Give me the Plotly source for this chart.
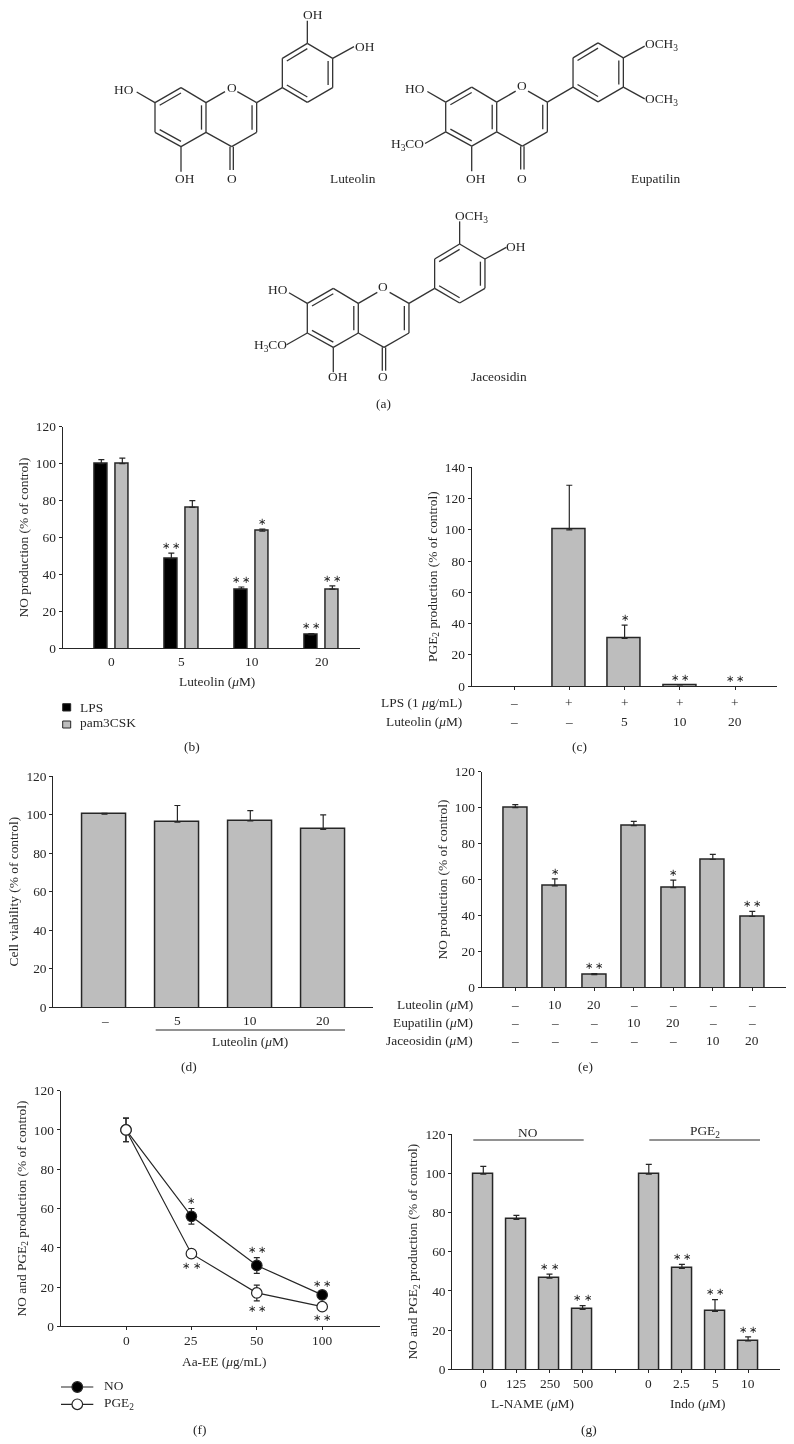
import plotly.graph_objects as go

W, H = 794, 1444
INK = "#262626"
GREY = "#bdbdbd"
FONT = "Liberation Serif, Times New Roman, serif"
FS = 13.4
MU = "<i>μ</i>"
S1 = "∗"
S2 = "∗ ∗"

# ---------- data ----------
b_groups = ["0", "5", "10", "20"]
b_lps = [100, 48.5, 32, 7.3]
b_lps_top = [102.2, 51.5, 33.2, 8]
b_lps_stars = ["", S2, S2, S2]
b_pam = [100, 76.3, 63.5, 32]
b_pam_top = [103, 80, 64.5, 33.8]
b_pam_stars = ["", "", S1, S2]

c_vals = [0, 100, 30.5, 0.7, 0]
c_top = [0, 128.5, 39, 0.9, 0.2]
c_stars = ["", "", S1, S2, S2]
c_rows = [("LPS (1 " + MU + "g/mL)", ["–", "+", "+", "+", "+"]),
          ("Luteolin (" + MU + "M)", ["–", "–", "5", "10", "20"])]

d_labels = ["–", "5", "10", "20"]
d_vals = [100.2, 96, 96.7, 92.3]
d_top = [100.6, 104.7, 102, 99.8]

e_vals = [100, 56.5, 7, 90, 55.5, 71.2, 39.5]
e_top = [101.7, 60.3, 7.6, 92.3, 59.6, 74, 42.3]
e_stars = ["", S1, S2, "", S1, "", S2]
e_rows = [("Luteolin (" + MU + "M)", ["–", "10", "20", "–", "–", "–", "–"]),
          ("Eupatilin (" + MU + "M)", ["–", "–", "–", "10", "20", "–", "–"]),
          ("Jaceosidin (" + MU + "M)", ["–", "–", "–", "–", "–", "10", "20"])]

f_labels = ["0", "25", "50", "100"]
f_no = [100, 56, 31, 16]
f_no_err = [6, 4, 4, 2]
f_no_stars = ["", S1, S2, S2]
f_pge = [100, 37, 17, 10]
f_pge_err = [6, 2, 4, 1.5]
f_pge_stars = ["", S2, S2, S2]

g_labels = ["0", "125", "250", "500", "0", "2.5", "5", "10"]
g_pos = [0, 1, 2, 3, 5, 6, 7, 8]
g_vals = [99.5, 76.5, 46.5, 30.5, 99.5, 51.5, 29.5, 14.5]
g_top = [103.5, 78.5, 48.5, 32.5, 104.5, 53.5, 35.5, 16.5]
g_stars = ["", "", S2, S2, "", S2, S2, S2]

# ---------- helpers ----------
fig = go.Figure()
layout_axes = {}
annotations = []
shapes = []
BASE = -2  # bars start just under the axis so that only the axis line closes them
STAR_GAP = 1.0


def px(x):
    return x / W


def py(y):
    return 1 - y / H


def ann(text, x, y, xanchor="center", size=FS, angle=0):
    annotations.append(dict(text=text, x=px(x), y=py(y), xref="paper", yref="paper",
                            xanchor=xanchor, yanchor="middle", showarrow=False,
                            textangle=angle, font=dict(family=FONT, size=size, color=INK)))


def seg(x0, y0, x1, y1, width=1.3, color="#333333"):
    shapes.append(dict(type="line", xref="paper", yref="paper", x0=px(x0), x1=px(x1),
                       y0=py(y0), y1=py(y1), line=dict(color=color, width=width)))


def hline(x0, x1, y, width=1.2):
    seg(x0, y, x1, y, width, INK)


def axes(n, left, right, top, bottom, ymax, dy, zero, step, tickvals,
         ytitle, standoff, ticklen=3, tickcolor=INK, blank=None):
    suffix = "" if n == 1 else str(n)
    xa = dict(
        domain=[px(left), px(right)], range=[(left - zero) / step, (right - zero) / step],
        anchor="y" + suffix, showgrid=False, zeroline=False, showline=True, linecolor=INK, linewidth=1.2,
        tickmode="array", tickvals=tickvals, ticks="outside", ticklen=ticklen,
        tickwidth=1, tickcolor=tickcolor, showticklabels=False, fixedrange=True, automargin=False)
    if blank is not None:
        xa["minor"] = dict(tickmode="array", tickvals=blank, ticks="outside", ticklen=ticklen,
                           tickwidth=1, tickcolor=tickcolor, showgrid=False)
    layout_axes["xaxis" + suffix] = xa
    layout_axes["yaxis" + suffix] = dict(
        domain=[py(bottom), py(top)], range=[0, ymax], anchor="x" + suffix, showgrid=False,
        zeroline=False, showline=True, linecolor=INK, linewidth=1.2, tick0=0, dtick=dy, ticks="outside",
        ticklen=3, tickwidth=1, tickcolor=INK, tickfont=dict(family=FONT, size=FS, color=INK),
        title=dict(text=ytitle, standoff=standoff, font=dict(family=FONT, size=FS, color=INK)),
        fixedrange=True, automargin=False)
    return "x" + suffix, "y" + suffix


def xlabels(labels, positions, zero, step, y):
    for t, i in zip(labels, positions):
        ann(t, zero + step * i, y)


def bars(xa, ya, x, vals, tops, width, color=GREY, offset=None, name=""):
    keep = [i for i, v in enumerate(vals) if v > 0]
    fig.add_trace(go.Bar(x=[x[i] for i in keep], y=[vals[i] - BASE for i in keep], base=BASE,
                         xaxis=xa, yaxis=ya, width=width, offset=offset, name=name,
                         marker=dict(color=color, line=dict(color=INK, width=1.5)),
                         error_y=dict(type="data", symmetric=False,
                                      array=[tops[i] - vals[i] for i in keep],
                                      arrayminus=[0] * len(keep), color=INK, thickness=1.2, width=3)))


def stars(xa, ya, x, y, text, pos="top center", gap=STAR_GAP):
    keep = [i for i, t in enumerate(text) if t]
    fig.add_trace(go.Scatter(x=[x[i] for i in keep], y=[y[i] + gap for i in keep], xaxis=xa, yaxis=ya,
                             mode="text", text=[text[i] for i in keep], textposition=pos,
                             hoverinfo="skip", cliponaxis=False,
                             textfont=dict(family=FONT, size=9.5, color="#1a1a1a")))


# ---------- (b) ----------
bpos = [0, 1, 2, 3]
xa, ya = axes(1, 62.7, 360, 426.7, 648.3, 120, 20, 111.8, 70, bpos,
              "NO production (% of control)", 4, ticklen=0, tickcolor="rgba(0,0,0,0)")
bars(xa, ya, bpos, b_lps, b_lps_top, 0.181, color="#000000", offset=-0.24, name="LPS")
bars(xa, ya, bpos, b_pam, b_pam_top, 0.181, offset=0.06, name="pam3CSK")
stars(xa, ya, [i - 0.15 for i in bpos], b_lps_top, b_lps_stars)
stars(xa, ya, [i + 0.15 for i in bpos], b_pam_top, b_pam_stars)
xlabels(b_groups, bpos, 111.8, 70, 661.7)
ann("Luteolin (" + MU + "M)", 216.7, 681.7)
ann("(b)", 191.7, 746.7)
for y0, y1, fill, label, ty in [(703.7, 711, "#000000", "LPS", 707.7), (721, 728, GREY, "pam3CSK", 722.3)]:
    shapes.append(dict(type="rect", xref="paper", yref="paper", x0=px(62.7), x1=px(70.7), y0=py(y1), y1=py(y0),
                       fillcolor=fill, line=dict(color=INK, width=1)))
    ann(label, 78, ty, xanchor="left")

# ---------- (c) ----------
cpos = list(range(5))
xa, ya = axes(2, 471.7, 776.7, 467.3, 686, 140, 20, 514, 55.3, cpos,
              "PGE<sub>2</sub> production (% of control)", 4)
bars(xa, ya, cpos, c_vals, c_top, 0.6)
stars(xa, ya, cpos, c_top, c_stars)
for (label, row), y in zip(c_rows, [702.3, 721]):
    ann(label, 464, y, xanchor="right")
    xlabels(row, cpos, 514, 55.3, y)
ann("(c)", 579.3, 746.7)

# ---------- (d) ----------
dpos = list(range(4))
xa, ya = axes(3, 53.3, 372.7, 776, 1007.3, 120, 20, 104.5, 72.9, dpos,
              "Cell viability (% of control)", 4, ticklen=0, tickcolor="rgba(0,0,0,0)")
bars(xa, ya, dpos, d_vals, d_top, 0.6)
xlabels(d_labels, dpos, 104.5, 72.9, 1020.3)
hline(155.7, 345, 1030)
ann("Luteolin (" + MU + "M)", 250, 1041)
ann("(d)", 188.7, 1066.3)

# ---------- (e) ----------
epos = list(range(7))
xa, ya = axes(4, 481.7, 785.7, 771.7, 987.3, 120, 20, 515.3, 39.5, epos,
              "NO production (% of control)", 4)
bars(xa, ya, epos, e_vals, e_top, 0.607)
stars(xa, ya, epos, e_top, e_stars)
for (label, row), y in zip(e_rows, [1004, 1022.7, 1040.7]):
    ann(label, 475, y, xanchor="right")
    xlabels(row, epos, 515.3, 39.5, y)
ann("(e)", 585.3, 1066.3)

# ---------- (f) ----------
fpos = [0, 1, 2, 3]
xa, ya = axes(5, 60.7, 380, 1090.7, 1326.3, 120, 20, 126, 65.4, fpos,
              "NO and PGE<sub>2</sub> production (% of control)", 4, blank=[-1])
for vals, err, fill, name in [(f_no, f_no_err, "#000000", "NO"), (f_pge, f_pge_err, "#ffffff", "PGE<sub>2</sub>")]:
    fig.add_trace(go.Scatter(x=fpos, y=vals, xaxis=xa, yaxis=ya, mode="lines+markers", name=name,
                             line=dict(color=INK, width=1.2),
                             marker=dict(size=10.5, color=fill, line=dict(color=INK, width=1.2)),
                             error_y=dict(type="data", array=err, color=INK, thickness=1.2, width=3)))
stars(xa, ya, fpos, [v + e for v, e in zip(f_no, f_no_err)], f_no_stars)
stars(xa, ya, fpos, [v - e for v, e in zip(f_pge, f_pge_err)], f_pge_stars, pos="bottom center", gap=-2)
xlabels(f_labels, fpos, 126, 65.4, 1340.3)
ann("Aa-EE (" + MU + "g/mL)", 224.3, 1361)
ann("(f)", 199.3, 1429.3)
for y, fill, label, ty in [(1387, "#000000", "NO", 1385.7), (1404.3, "#ffffff", "PGE<sub>2</sub>", 1403)]:
    seg(61, y, 93.3, y, 1.2, INK)
    shapes.append(dict(type="circle", xref="paper", yref="paper", x0=px(72), x1=px(82.6), y0=py(y + 5.3), y1=py(y - 5.3),
                       fillcolor=fill, line=dict(color=INK, width=1.2)))
    ann(label, 101.7, ty, xanchor="left")

# ---------- (g) ----------
xa, ya = axes(6, 452.3, 780, 1134, 1369.3, 120, 20, 483.3, 33.1, g_pos,
              "NO and PGE<sub>2</sub> production (% of control)", 4, blank=[4])
bars(xa, ya, g_pos, g_vals, g_top, 0.604)
stars(xa, ya, g_pos, g_top, g_stars)
xlabels(g_labels, g_pos, 483.3, 33.1, 1383.3)
hline(473.3, 583.7, 1140)
hline(649.3, 760, 1140)
ann("NO", 527.7, 1132.7)
ann("PGE<sub>2</sub>", 705, 1131)
ann("L-NAME (" + MU + "M)", 532.7, 1403.3)
ann("Indo (" + MU + "M)", 697.7, 1403.3)
ann("(g)", 589.3, 1429.3)

# ---------- (a) structures ----------
ATOM = {"C7": (165, 308), "C8": (243, 263), "C8a": (318, 308), "C4a": (318, 397), "C5": (243, 440),
        "C6": (165, 397), "C2": (470, 308), "C3": (470, 397), "C4": (395, 440),
        "C1p": (547, 263), "C2p": (547, 175), "C3p": (622, 130), "C4p": (698, 175),
        "C5p": (698, 263), "C6p": (622, 307)}
SINGLE = [("C7", "C8"), ("C8", "C8a"), ("C8a", "C4a"), ("C4a", "C5"), ("C5", "C6"), ("C6", "C7"),
          ("C2", "C3"), ("C3", "C4"), ("C4", "C4a"), ("C2", "C1p"),
          ("C1p", "C2p"), ("C2p", "C3p"), ("C3p", "C4p"), ("C4p", "C5p"), ("C5p", "C6p"), ("C6p", "C1p")]
INNER = [("C7", "C8", (243, 352)), ("C8a", "C4a", (243, 352)), ("C5", "C6", (243, 352)),
         ("C2", "C3", (393, 352)),
         ("C2p", "C3p", (622, 219)), ("C4p", "C5p", (622, 219)), ("C6p", "C1p", (622, 219))]
VEC = {"up": (0, -68), "ur": (64, -35), "ul": (-55, -32), "dl": (-62, 35), "d": (0, 75), "dr": (64, 35)}
MOLECULES = [
    dict(dx=0, dy=0, subs=[("C3p", "up"), ("C4p", "ur"), ("C7", "ul"), ("C5", "d")], ox=100, oy=0,
         labels=[("OH", 640, 42), ("OH", 795, 138), ("HO", 72, 268), ("OH", 255, 535), ("O", 395, 263),
                 ("O", 395, 535), ("Luteolin", 760, 535)]),
    dict(dx=290.7, dy=-0.5, subs=[("C4p", "ur"), ("C5p", "dr"), ("C7", "ul"), ("C6", "dl"), ("C5", "d")], ox=390, oy=0,
         labels=[("OCH<sub>3</sub>", 815, 132), ("OCH<sub>3</sub>", 815, 298), ("HO", 75, 265),
                 ("H<sub>3</sub>CO", 52, 432), ("OH", 257, 535), ("O", 397, 257), ("O", 397, 535),
                 ("Eupatilin", 795, 535)]),
    dict(dx=152.3, dy=200.7, subs=[("C3p", "up"), ("C4p", "ur"), ("C7", "ul"), ("C6", "dl"), ("C5", "d")], ox=240, oy=200,
         labels=[("OCH<sub>3</sub>", 695, 50), ("OH", 828, 140), ("HO", 113, 270), ("H<sub>3</sub>CO", 90, 435),
                 ("OH", 295, 530), ("O", 430, 260), ("O", 430, 530), ("Jaceosidin", 778, 530)]),
]


def draw_molecule(m):
    def P(z):
        return 100 + z[0] / 3 + m["dx"], z[1] / 3 + m["dy"]

    def bond(a, b, width=1.3):
        pa, pb = P(a), P(b)
        seg(pa[0], pa[1], pb[0], pb[1], width)

    for a, b in SINGLE:
        bond(ATOM[a], ATOM[b])
    bond(ATOM["C8a"], (375, 275))
    bond((412, 275), ATOM["C2"])
    for a, b, c in INNER:
        ax, ay = ATOM[a]
        bx, by = ATOM[b]
        sh = 0.82
        a2 = (c[0] + (ax - c[0]) * sh, c[1] + (ay - c[1]) * sh)
        b2 = (c[0] + (bx - c[0]) * sh, c[1] + (by - c[1]) * sh)
        bond(a2, b2)
    cx, cy = ATOM["C4"]
    bond((cx - 5, cy), (cx - 5, 510))
    bond((cx + 5, cy), (cx + 5, 510))
    for atom, v in m["subs"]:
        ax, ay = ATOM[atom]
        bond((ax, ay), (ax + VEC[v][0], ay + VEC[v][1]))
    for text, zx, zy in m["labels"]:
        ann(text, m["ox"] + zx / 3, m["oy"] + zy / 3)


for mol in MOLECULES:
    draw_molecule(mol)
ann("(a)", 383.3, 403)

fig.update_layout(
    template="none",
    width=W, height=H, margin=dict(l=0, r=0, t=0, b=0), autosize=False,
    paper_bgcolor="white", plot_bgcolor="white", showlegend=False, bargap=0,
    font=dict(family=FONT, size=FS, color=INK),
    annotations=annotations, shapes=shapes,
    **layout_axes,
)

POST = ("document.body.style.margin='0';document.documentElement.style.overflow='hidden';"
        "var s=document.createElement('style');s.textContent='.main-svg{will-change:transform}';"
        "document.head.appendChild(s);")
fig.write_html("out.html", config={"displayModeBar": False}, post_script=POST)
